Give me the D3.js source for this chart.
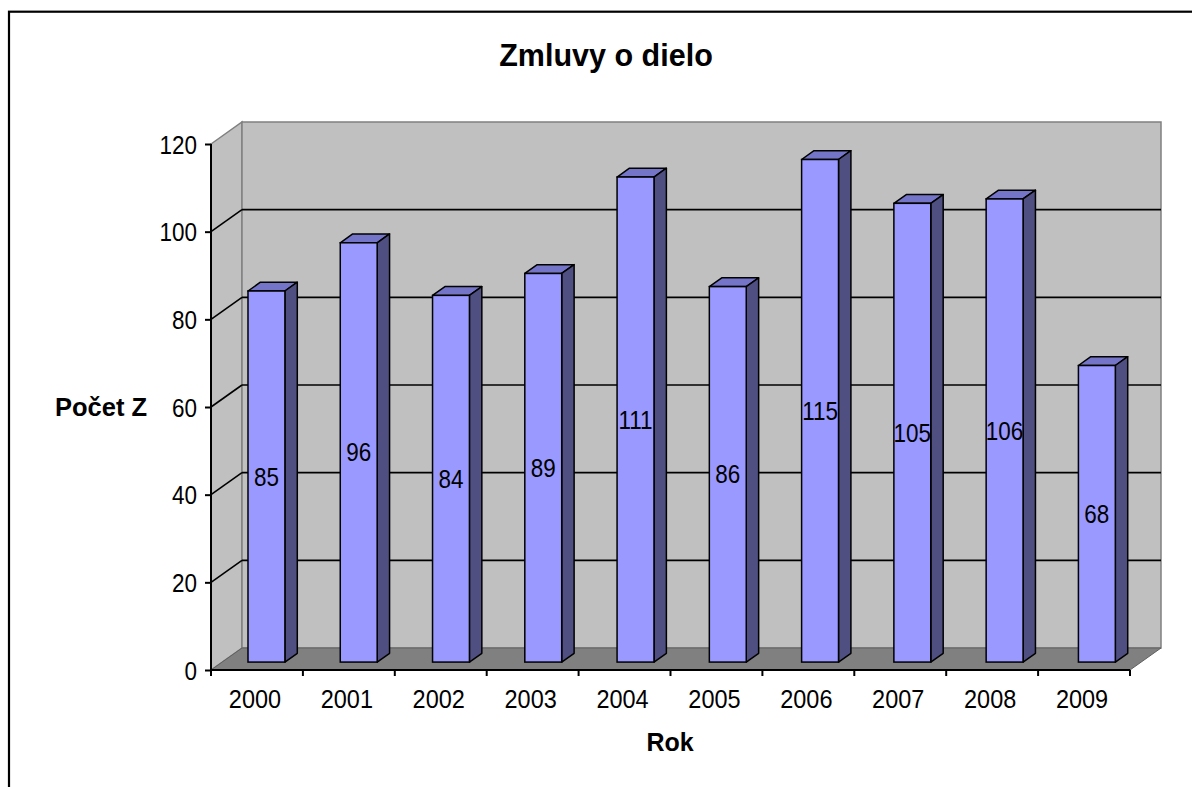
<!DOCTYPE html>
<html>
<head>
<meta charset="utf-8">
<script src="https://cdn.jsdelivr.net/npm/d3@7"></script>
<style>
  body { margin: 0; background: #fff; }
  text { font-family: Arial, "Liberation Sans", sans-serif; }
</style>
</head>
<body>
<div id="chart"></div>
<script>
const years = ["2000", "2001", "2002", "2003", "2004", "2005", "2006", "2007", "2008", "2009"];
const counts = [85, 96, 84, 89, 111, 86, 115, 105, 106, 68];
const yTicks = [0, 20, 40, 60, 80, 100, 120];

const W = 1192, H = 787;
// front plane of the 3d box, plus the depth offset of the back wall
const plotL = 211, plotR = 1130, plotB = 670, plotT = 144;
const DX = 31, DY = -22;
const f0 = 0.36, f1 = 0.76; // bar depth range (fraction of box depth)

var svg = d3.select("#chart")
  .append("svg")
  .attr("width", W)
  .attr("height", H);

// outer frame
svg.append("rect")
  .attr("x", 9).attr("y", 11.7)
  .attr("width", W + 20).attr("height", H + 20)
  .attr("fill", "white")
  .attr("stroke", "black")
  .attr("stroke-width", 2.2);

var x = d3.scaleBand()
  .domain(years)
  .range([plotL, plotR])
  .paddingInner(0.6)
  .paddingOuter(0.28);

var xEdge = d3.scaleLinear().domain([0, years.length]).range([plotL, plotR]);

var y = d3.scaleLinear().domain([0, 120]).range([plotB, plotT]);

function pts(arr) {
  return arr.map(p => p.join(",")).join(" ");
}

// text in the original is a little taller than wide
function tall(sel, px, py, k) {
  sel.attr("x", 0).attr("y", 0)
    .attr("transform", "translate(" + px + "," + py + ") scale(1," + k + ")");
}

// side wall
svg.append("polygon")
  .attr("points", pts([[plotL, y(120)], [plotL + DX, y(120) + DY], [plotL + DX, y(0) + DY], [plotL, y(0)]]))
  .attr("fill", "#c0c0c0")
  .attr("stroke", "#808080")
  .attr("stroke-width", 1.5);

// back wall
svg.append("rect")
  .attr("x", plotL + DX)
  .attr("y", y(120) + DY)
  .attr("width", plotR - plotL)
  .attr("height", y(0) - y(120))
  .attr("fill", "#c0c0c0")
  .attr("stroke", "#808080")
  .attr("stroke-width", 1.5);

// gridlines
var grid = yTicks.filter(d => d > 0 && d < 120);
svg.selectAll("line.gback")
  .data(grid)
  .enter()
  .append("line")
  .attr("class", "gback")
  .attr("x1", plotL + DX).attr("x2", plotR + DX)
  .attr("y1", d => y(d) + DY).attr("y2", d => y(d) + DY)
  .attr("stroke", "black")
  .attr("stroke-width", 1.6);
svg.selectAll("line.gside")
  .data(grid)
  .enter()
  .append("line")
  .attr("class", "gside")
  .attr("x1", plotL).attr("x2", plotL + DX)
  .attr("y1", d => y(d)).attr("y2", d => y(d) + DY)
  .attr("stroke", "black")
  .attr("stroke-width", 1.6);

// floor
svg.append("polygon")
  .attr("points", pts([[plotL, y(0)], [plotL + DX, y(0) + DY], [plotR + DX, y(0) + DY], [plotR, y(0)]]))
  .attr("fill", "#808080")
  .attr("stroke", "#606060")
  .attr("stroke-width", 1);

// bars
var dd = f1 - f0;
var bars = svg.selectAll("g.bar")
  .data(years.map((k, i) => ({ key: k, value: counts[i] })))
  .enter()
  .append("g")
  .attr("class", "bar");

bars.each(function (d) {
  var g = d3.select(this);
  var xl = x(d.key) + f0 * DX;
  var xr = xl + x.bandwidth();
  var yt = y(d.value) + f0 * DY + 1.5;
  var yb = y(0) + f0 * DY;
  var ox = dd * DX, oy = dd * DY;
  g.append("polygon")
    .attr("points", pts([[xl, yt], [xr, yt], [xr + ox, yt + oy], [xl + ox, yt + oy]]))
    .attr("fill", "#7474c8")
    .attr("stroke", "black")
    .attr("stroke-width", 1.5)
    .attr("stroke-linejoin", "round");
  g.append("polygon")
    .attr("points", pts([[xr, yt], [xr + ox, yt + oy], [xr + ox, yb + oy], [xr, yb]]))
    .attr("fill", "#4f4f82")
    .attr("stroke", "black")
    .attr("stroke-width", 1.5)
    .attr("stroke-linejoin", "round");
  g.append("rect")
    .attr("x", xl).attr("y", yt)
    .attr("width", x.bandwidth())
    .attr("height", yb - yt)
    .attr("fill", "#9999ff")
    .attr("stroke", "black")
    .attr("stroke-width", 1.5);
  g.append("text")
    .attr("text-anchor", "middle")
    .style("font-size", "22.5px")
    .text(d.value)
    .call(tall, xl + x.bandwidth() / 2, (yt + yb) / 2 + 9, 1.12);
});

// y axis
var yAxis = svg.append("g")
  .attr("transform", "translate(" + plotL + ",0)")
  .call(d3.axisLeft(y).tickValues(yTicks).tickSize(6).tickPadding(8));
yAxis.select(".domain").attr("stroke-width", 2).attr("d", "M0," + y(120) + "V" + y(0));
yAxis.selectAll(".tick line").attr("stroke-width", 2);
yAxis.selectAll(".tick text")
  .attr("dy", "0.36em")
  .attr("transform", "scale(1,1.12)")
  .style("font-size", "22.5px")
  .style("font-family", "Arial, 'Liberation Sans', sans-serif")
  .attr("fill", "black");

// x axis: ticks on category edges, labels in the middle
svg.append("line")
  .attr("x1", plotL).attr("x2", plotR)
  .attr("y1", plotB).attr("y2", plotB)
  .attr("stroke", "black").attr("stroke-width", 2);
svg.selectAll("line.xt")
  .data(d3.range(years.length + 1))
  .enter()
  .append("line")
  .attr("class", "xt")
  .attr("x1", d => xEdge(d)).attr("x2", d => xEdge(d))
  .attr("y1", plotB).attr("y2", plotB + 6)
  .attr("stroke", "black").attr("stroke-width", 2);
svg.selectAll("text.xl")
  .data(years)
  .enter()
  .append("text")
  .attr("class", "xl")
  .attr("text-anchor", "middle")
  .style("font-size", "23.5px")
  .text(d => d)
  .each(function (d, i) {
    d3.select(this).call(tall, (xEdge(i) + xEdge(i + 1)) / 2 - 2, 708, 1.07);
  });

// titles
svg.append("text")
  .attr("x", 606).attr("y", 66)
  .attr("text-anchor", "middle")
  .style("font-size", "30.5px")
  .style("font-weight", "bold")
  .text("Zmluvy o dielo");

svg.append("text")
  .attr("x", 101).attr("y", 416)
  .attr("text-anchor", "middle")
  .style("font-size", "25.5px")
  .style("font-weight", "bold")
  .text("Počet Z");

svg.append("text")
  .attr("x", 670).attr("y", 751)
  .attr("text-anchor", "middle")
  .style("font-size", "25px")
  .style("font-weight", "bold")
  .text("Rok");
</script>
</body>
</html>
